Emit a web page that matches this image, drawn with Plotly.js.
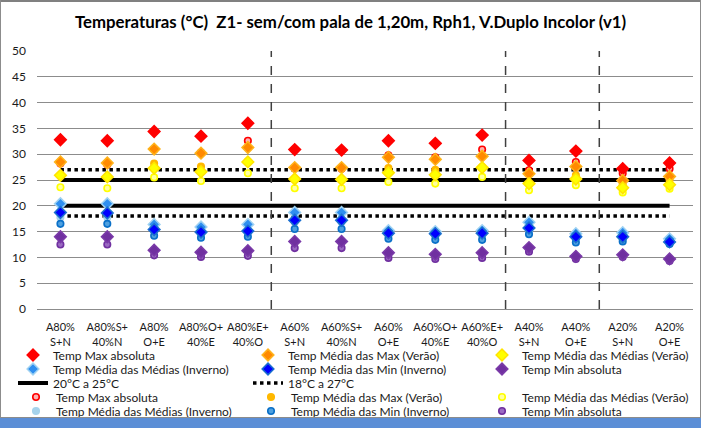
<!DOCTYPE html>
<html>
<head>
<meta charset="utf-8">
<script src="https://cdn.plot.ly/plotly-3.0.1.min.js"></script>
<style>
  html, body { margin: 0; padding: 0; background: #fff; }
  #wrap { position: relative; width: 701px; height: 428px; overflow: hidden; }
  #chart { position: absolute; left: 0; top: 0; width: 701px; height: 428px; }
  .frame { position: absolute; pointer-events: none; }
</style>
</head>
<body>
<div id="wrap">
  <div id="chart"></div>
  <div class="frame" style="left:0;top:0;width:701px;height:2px;background:#808080;"></div>
  <div class="frame" style="left:0;top:0;width:1px;height:418px;background:#8c8c8c;"></div>
  <div class="frame" style="left:700px;top:0;width:1px;height:418px;background:#8c8c8c;"></div>
  <div class="frame" style="left:0;top:417px;width:701px;height:1px;background:#8c8c8c;"></div>
  <div class="frame" style="left:0;top:418px;width:701px;height:10px;background:#5b8ed6;"></div>
</div>
<script>
// ---------- data ----------
const categories = ["A80%<br>S+N", "A80%S+<br>40%N", "A80%<br>O+E", "A80%O+<br>40%E", "A80%E+<br>40%O",
                    "A60%<br>S+N", "A60%S+<br>40%N", "A60%<br>O+E", "A60%O+<br>40%E", "A60%E+<br>40%O",
                    "A40%<br>S+N", "A40%<br>O+E", "A20%<br>S+N", "A20%<br>O+E"];

// series 1 (diamonds)
const maxAbs1            = [32.8, 32.6, 34.4, 33.5, 36.0, 30.9, 30.8, 32.6, 32.1, 33.7, 28.8, 30.6, 27.2, 28.3];
const mediaMaxVerao1     = [28.5, 28.3, 31.0, 30.2, 31.3, 27.4, 27.4, 29.4, 29.0, 29.6, 26.2, 27.6, 24.9, 25.7];
const mediaMediasVerao1  = [25.9, 25.6, 27.3, 26.6, 28.5, 25.2, 25.1, 26.4, 26.0, 27.4, 24.3, 25.2, 23.5, 24.1];
const mediaMediasInv1    = [20.4, 20.4, 16.4, 15.9, 16.4, 18.7, 18.7, 15.2, 15.0, 15.2, 16.8, 14.6, 14.8, 13.6];
const mediaMinInv1       = [18.7, 18.6, 15.4, 14.9, 15.1, 17.2, 17.2, 14.7, 14.6, 14.7, 15.7, 14.0, 14.0, 13.0];
const minAbs1            = [14.0, 14.0, 11.4, 11.0, 11.3, 13.1, 13.1, 10.9, 10.6, 10.9, 11.9, 10.2, 10.5, 9.7];

// series 2 (circles)
const maxAbs2            = [28.2, 28.0, 30.9, 30.3, 32.6, 27.3, 27.2, 29.8, 29.4, 30.9, 26.9, 28.5, 26.3, 27.2];
const mediaMaxVerao2     = [25.9, 25.6, 28.2, 27.6, 28.6, 25.2, 25.1, 27.3, 27.0, 27.5, 24.3, 25.9, 24.1, 25.1];
const mediaMediasVerao2  = [23.6, 23.4, 25.5, 24.8, 26.3, 23.4, 23.4, 24.6, 24.3, 25.6, 23.0, 24.0, 22.6, 23.3];
const mediaMediasInv2    = [17.8, 17.8, 15.1, 14.6, 14.8, 16.8, 16.8, 14.3, 14.1, 14.2, 15.0, 13.4, 13.6, 12.9];
const mediaMinInv2       = [16.5, 16.5, 14.2, 13.8, 14.0, 15.5, 15.5, 13.6, 13.4, 13.4, 14.5, 12.9, 13.1, 12.6];
const minAbs2            = [12.5, 12.5, 10.4, 10.1, 10.3, 11.8, 11.8, 9.9, 9.7, 9.9, 11.1, 9.7, 10.1, 9.3];

// comfort bands
const bandSolid  = [20, 25];
const bandDotted = [18, 27];

const seriesNames = ["Temp Max absoluta", "Temp Média das Max (Verão)", "Temp Média das Médias (Verão)",
                     "Temp Média das Médias (Inverno)", "Temp Média das Min (Inverno)", "Temp Min absoluta"];
const lineNames = ["20°C a 25°C", "18°C a 27°C"];

// ---------- styling ----------
const FONT = "Lato, 'Open Sans', sans-serif";
const diamondStyles = [
  {fill: "#ff0000", line: "#ff0000"},
  {fill: "#ff8a00", line: "#ffb31a"},
  {fill: "#ffff00", line: "#ffe400"},
  {fill: "#2f8ff0", line: "#9fd2f2"},
  {fill: "#0000ff", line: "#1a6fcf"},
  {fill: "#7030a0", line: "#7a3aa8"}
];
const circleStyles = [
  {fill: "#ffb0b0", line: "#ff0000"},
  {fill: "#ffb800", line: "#ffb800"},
  {fill: "#ffffa0", line: "#ffff00"},
  {fill: "#a6d3ec", line: "#a6d3ec"},
  {fill: "#4ea0e0", line: "#0a70c8"},
  {fill: "#9a6ac2", line: "#7030a0"}
];

const set1 = [maxAbs1, mediaMaxVerao1, mediaMediasVerao1, mediaMediasInv1, mediaMinInv1, minAbs1];
const set2 = [maxAbs2, mediaMaxVerao2, mediaMediasVerao2, mediaMediasInv2, mediaMinInv2, minAbs2];
// legend slot per series: rows 1-2 (diamonds), rows 4-5 (circles); column 3 has its own legend
const diamondLegend = ["legend", "legend", "legend6", "legend2", "legend2", "legend7"];
const circleLegend  = ["legend4", "legend4", "legend8", "legend5", "legend5", "legend9"];

function bandXY(levels) {
  const x = [], y = [];
  levels.forEach((lv, i) => {
    if (i > 0) { x.push(null); y.push(null); }
    categories.forEach(c => { x.push(c); y.push(lv); });
  });
  return {x, y};
}

const traces = [];
const b1 = bandXY(bandSolid), b2 = bandXY(bandDotted);
traces.push({type: "scatter", mode: "lines", x: b1.x, y: b1.y, name: lineNames[0], legend: "legend3",
             connectgaps: false, line: {color: "#000", width: 4}, hoverinfo: "skip"});
traces.push({type: "scatter", mode: "lines", x: b2.x, y: b2.y, name: lineNames[1], legend: "legend3",
             connectgaps: false, line: {color: "#000", width: 3.5, dash: "dot"}, hoverinfo: "skip"});
set2.forEach((arr, i) => {
  traces.push({type: "scatter", mode: "markers", x: categories, y: arr, name: seriesNames[i], legend: circleLegend[i],
               marker: {symbol: "circle", size: 6.5, color: circleStyles[i].fill,
                        line: {color: circleStyles[i].line, width: 1.6}}});
});
set1.forEach((arr, i) => {
  traces.push({type: "scatter", mode: "markers", x: categories, y: arr, name: seriesNames[i], legend: diamondLegend[i],
               marker: {symbol: "diamond", size: 9, color: diamondStyles[i].fill,
                        line: {color: diamondStyles[i].line, width: 1.5}}});
});

// ---------- layout ----------
const L = 37, W = 656, B = 309, H = 258;
function px2x(p) { return (p - L) / W; }
function px2y(p) { return (B - p) / H; }
function mkLegend(xpx, ypx) {
  return {orientation: "h", x: px2x(xpx), xanchor: "left", y: px2y(ypx), yanchor: "middle",
          entrywidth: 190, entrywidthmode: "pixels", bgcolor: "rgba(0,0,0,0)", borderwidth: 0,
          font: {family: FONT, size: 12, color: "#1a1a1a"}, traceorder: "normal", itemclick: false};
}

const layout = {
  width: 701, height: 428,
  margin: {l: L, r: 701 - L - W, t: 51, b: 428 - B, autoexpand: false},
  paper_bgcolor: "#fff", plot_bgcolor: "#fff",
  title: {text: "Temperaturas (°C)  Z1- sem/com pala de 1,20m, Rph1, V.Duplo Incolor (v1)",
          x: 0.5, xanchor: "center", y: 1 - 22 / 428, yanchor: "middle",
          font: {family: FONT, size: 16.8, color: "#000", weight: "bold"}},
  xaxis: {type: "category", range: [-0.5, 13.5], showgrid: false, zeroline: false,
          showline: true, linecolor: "#8c8c8c", linewidth: 1, ticks: "",
          tickfont: {family: FONT, size: 11, color: "#1a1a1a"}, ticklabelstandoff: 8, fixedrange: true},
  yaxis: {range: [0, 50], dtick: 5, tick0: 0, showgrid: true, gridcolor: "#8c8c8c", gridwidth: 1,
          zeroline: false, showline: false, ticks: "", ticklabelstandoff: 10,
          tickfont: {family: FONT, size: 12, color: "#1a1a1a"}, fixedrange: true},
  showlegend: true,
  legend:  mkLegend(13, 355),
  legend2: mkLegend(13, 369),
  legend3: mkLegend(13, 383),
  legend4: mkLegend(16, 397),
  legend5: mkLegend(16, 411),
  legend6: mkLegend(482, 355),
  legend7: mkLegend(482, 369),
  legend8: mkLegend(482, 397),
  legend9: mkLegend(482, 411),
  shapes: [4.5, 9.5, 11.5].map(v => ({type: "line", xref: "x", yref: "paper", x0: v, x1: v, y0: 0, y1: 1,
                                     line: {color: "#404040", width: 1.5, dash: "dash"}})),
  hovermode: false
};

Plotly.newPlot("chart", traces, layout, {displayModeBar: false, staticPlot: true});
</script>
</body>
</html>
